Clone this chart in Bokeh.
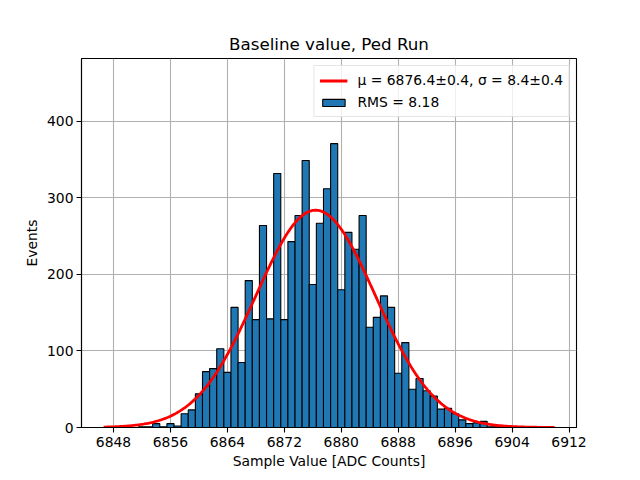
import numpy as np
from bokeh.plotting import figure
from bokeh.models import Range1d, FixedTicker, Legend, LegendItem, ColumnDataSource
from bokeh.embed import file_html
from bokeh.resources import INLINE

# ---- data ----
bin_centers = list(range(6850, 6905))
counts = [1, 0, 1, 1, 5, 1, 5, 2, 18, 23,
          44, 73, 77, 103, 72, 157, 85, 192, 141, 264,
          142, 332, 141, 243, 277, 349, 187, 267, 312, 371,
          180, 255, 233, 277, 131, 144, 172, 157, 71, 111,
          50, 64, 48, 41, 24, 25, 18, 10, 5, 6,
          8, 1, 1, 0, 1]
bin_width = 1.0

fit_mu = 6876.4
fit_sigma = 8.4
fit_amp = 284.0
fit_x_min = 6846.6
fit_x_max = 6909.97

x_ticks = [6848, 6856, 6864, 6872, 6880, 6888, 6896, 6904, 6912]
y_ticks = [0, 100, 200, 300, 400]

title_text = "Baseline value, Ped Run"
x_label = "Sample Value [ADC Counts]"
y_label = "Events"
fit_label = "\u03bc = 6876.4\u00b10.4, \u03c3 = 8.4\u00b10.4"
rms_label = "RMS = 8.18"

# ---- derived ----
centers = np.array(bin_centers, dtype=float)
hist_src = ColumnDataSource(dict(
    left=centers - bin_width / 2,
    right=centers + bin_width / 2,
    top=np.array(counts, dtype=float),
    bottom=np.zeros(len(counts)),
))
fx = np.linspace(fit_x_min, fit_x_max, 400)
fy = fit_amp * np.exp(-0.5 * ((fx - fit_mu) / fit_sigma) ** 2)
fit_src = ColumnDataSource(dict(x=fx, y=fy))

FONT = "DejaVu Sans"

p = figure(width=624, height=472, output_backend="svg", toolbar_location=None,
           x_range=Range1d(6843.5, 6913.05),
           y_range=Range1d(0, 1.3 * max(counts)),
           min_border_left=81, min_border_right=48,
           min_border_top=58, min_border_bottom=45)

p.background_fill_color = "white"
p.border_fill_color = "white"
p.outline_line_color = "black"
p.outline_line_width = 1.1

p.title.text = title_text
p.title.align = "center"
p.title.text_font = FONT
p.title.text_font_size = "16.7px"
p.title.text_font_style = "normal"
p.title.text_color = "black"

for ax in (p.xaxis[0], p.yaxis[0]):
    ax.axis_line_color = "black"
    ax.axis_line_width = 1.1
    ax.major_tick_line_color = "black"
    ax.major_tick_line_width = 1.1
    ax.major_tick_in = 0
    ax.major_tick_out = 5
    ax.minor_tick_line_color = None
    ax.major_label_text_font = FONT
    ax.major_label_text_font_size = "13.9px"
    ax.major_label_text_color = "black"
    ax.axis_label_text_font = FONT
    ax.axis_label_text_font_size = "13.9px"
    ax.axis_label_text_font_style = "normal"
    ax.axis_label_text_color = "black"

p.xaxis[0].ticker = FixedTicker(ticks=x_ticks)
p.yaxis[0].ticker = FixedTicker(ticks=y_ticks)
p.xaxis[0].axis_label = x_label
p.yaxis[0].axis_label = y_label
p.xaxis[0].major_label_standoff = 4
p.yaxis[0].major_label_standoff = 3
p.xaxis[0].axis_label_standoff = 3
p.yaxis[0].axis_label_standoff = 4

for g in (p.xgrid[0], p.ygrid[0]):
    g.grid_line_color = "#b0b0b0"
    g.grid_line_width = 1.1
p.xgrid[0].ticker = FixedTicker(ticks=x_ticks)
p.ygrid[0].ticker = FixedTicker(ticks=y_ticks)

bars = p.quad(left="left", right="right", top="top", bottom="bottom", source=hist_src,
              fill_color="#1f77b4", line_color="black", line_width=1.1)
fit = p.line("x", "y", source=fit_src, line_color="red", line_width=2.8)

legend = Legend(items=[LegendItem(label=fit_label, renderers=[fit]),
                       LegendItem(label=rms_label, renderers=[bars])],
                location="top_right")
legend.label_text_font = FONT
legend.label_text_font_size = "13.9px"
legend.label_text_color = "black"
legend.border_line_color = "#cccccc"
legend.border_line_width = 1.1
legend.background_fill_alpha = 0.8
legend.margin = 7
legend.padding = 5
legend.spacing = 4
legend.glyph_width = 28
legend.glyph_height = 9
legend.label_height = 18
legend.label_standoff = 10
p.add_layout(legend, "center")

open("out.html", "w").write(file_html(p, INLINE))
